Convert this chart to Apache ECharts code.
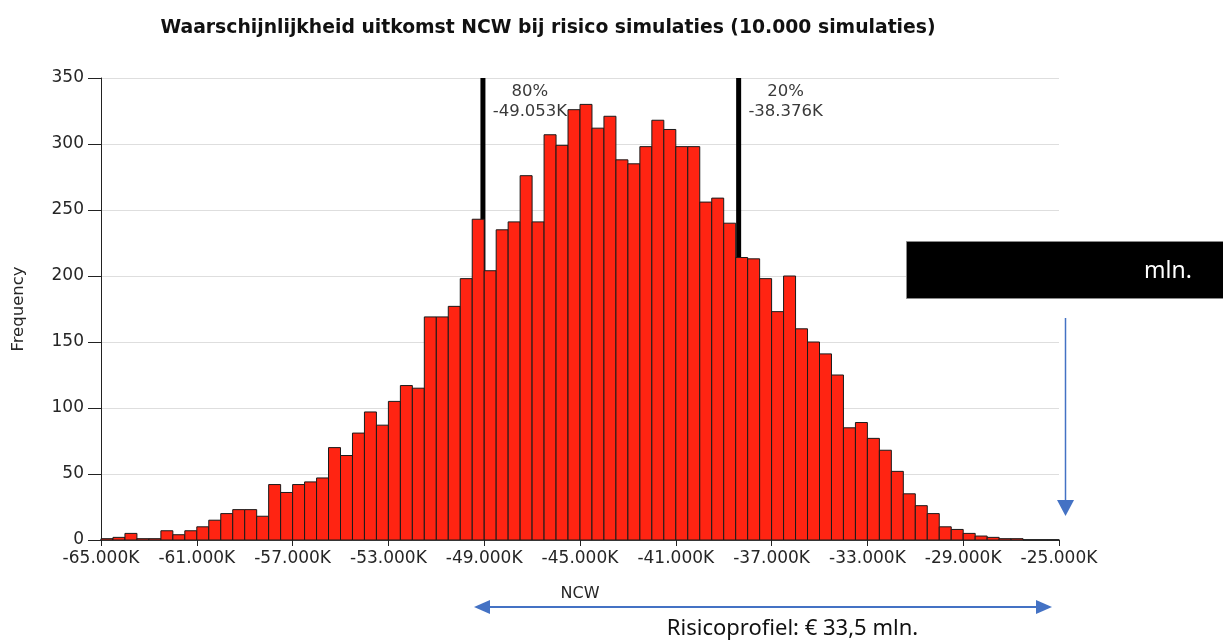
<!DOCTYPE html>
<html>
<head>
<meta charset="utf-8">
<script src="https://cdn.jsdelivr.net/npm/echarts@6/dist/echarts.min.js"></script>
<style>
html,body{margin:0;padding:0;background:#fff;}
#chart{width:1223px;height:641px;}
</style>
</head>
<body>
<div id="chart"></div>
<script>
// ---- data ----
const titleText = 'Waarschijnlijkheid uitkomst NCW bij risico simulaties (10.000 simulaties)';
const xAxisName = 'NCW';
const yAxisName = 'Frequency';
const binStart = -65000;   // lower edge of first bin (K)
const binWidth = 500;      // bin width (K)
// counts per bin (80 bins from -65.000K to -25.000K)
const frequencies = [
  1, 2, 5, 1, 1, 7, 4, 7, 10, 15,
  20, 23, 23, 18, 42, 36, 42, 44, 47, 70,
  64, 81, 97, 87, 105, 117, 115, 169, 169, 177,
  198, 243, 204, 235, 241, 276, 241, 307, 299, 326,
  330, 312, 321, 288, 285, 298, 318, 311, 298, 298,
  256, 259, 240, 214, 213, 198, 173, 200, 160, 150,
  141, 125, 85, 89, 77, 68, 52, 35, 26, 20,
  10, 8, 5, 3, 2, 1, 1, 0, 0, 0
];
const percentileValues = [-49053, -38376];
const percentileLabels = ['80%', '20%'];
const xMin = -65000, xMax = -25000, xInterval = 4000;
const yMin = 0, yMax = 350, yInterval = 50;
const noteBoxText = 'mln.';
const noteText = 'Risicoprofiel: \u20AC 33,5 mln.';

// ---- helpers ----
function fmtK(v) {
  const s = v < 0 ? '-' : '';
  return s + String(Math.abs(Math.round(v))).replace(/\B(?=(\d{3})+(?!\d))/g, '.') + 'K';
}
const histData = frequencies.map((f, i) => [binStart + i * binWidth, binStart + (i + 1) * binWidth, f]);
const pctData = percentileValues.map((v, i) => [v, percentileLabels[i]]);

const FONT = 'DejaVu Sans';
const TXT = '#262626';
const BLUE = '#4472c4';

const chart = echarts.init(document.getElementById('chart'), null, {renderer: 'canvas'});
chart.setOption({
  animation: false,
  backgroundColor: '#ffffff',
  title: {
    text: titleText,
    left: 543, top: 14, textAlign: 'center',
    textStyle: {fontFamily: FONT, fontSize: 18.8, fontWeight: 'bold', color: '#111'}
  },
  grid: {left: 101, right: 164, top: 78, bottom: 101, containLabel: false},
  xAxis: {
    type: 'value', min: xMin, max: xMax, interval: xInterval,
    name: xAxisName, nameLocation: 'middle', nameGap: 46,
    nameTextStyle: {fontFamily: FONT, fontSize: 16, color: TXT},
    axisLine: {show: true, onZero: false, lineStyle: {color: '#222', width: 1.5}},
    axisTick: {show: true, length: 6, lineStyle: {color: '#222'}},
    axisLabel: {fontFamily: FONT, fontSize: 17, color: TXT, margin: 10, formatter: fmtK,
      showMinLabel: true, showMaxLabel: true},
    splitLine: {show: false}
  },
  yAxis: {
    type: 'value', min: yMin, max: yMax, interval: yInterval,
    name: yAxisName, nameLocation: 'middle', nameGap: 74, nameRotate: 90,
    nameTextStyle: {fontFamily: FONT, fontSize: 16.5, color: TXT},
    axisLine: {show: true, lineStyle: {color: '#222', width: 1}},
    axisTick: {show: true, length: 13, lineStyle: {color: '#222'}},
    axisLabel: {fontFamily: FONT, fontSize: 17, color: TXT, margin: 17},
    splitLine: {show: true, lineStyle: {color: '#dedede', width: 1}}
  },
  series: [
    {
      type: 'custom', name: 'percentile lines', z: 1,
      data: pctData,
      encode: {x: 0},
      renderItem: function (params, api) {
        const v = api.value(0);
        const p0 = api.coord([v, yMin]);
        const p1 = api.coord([v, yMax]);
        return {type: 'line', shape: {x1: p0[0], y1: p0[1], x2: p1[0], y2: p1[1]},
          style: {stroke: '#000', lineWidth: 5}};
      }
    },
    {
      type: 'custom', name: 'NCW', z: 2,
      data: histData,
      encode: {x: [0, 1], y: 2},
      renderItem: function (params, api) {
        const p0 = api.coord([api.value(0), api.value(2)]);
        const p1 = api.coord([api.value(1), 0]);
        return {type: 'rect',
          shape: {x: p0[0], y: p0[1], width: p1[0] - p0[0], height: p1[1] - p0[1]},
          style: {fill: '#ff2412', stroke: '#1a1a1a', lineWidth: 1}};
      }
    },
    {
      type: 'custom', name: 'percentile labels', z: 3,
      data: pctData,
      encode: {x: 0},
      renderItem: function (params, api) {
        const v = api.value(0);
        const lbl = pctData[params.dataIndex][1];
        const p = api.coord([v, yMax]);
        return {type: 'text', x: p[0] + 47, y: p[1] + 4,
          style: {text: lbl + '\n' + fmtK(v), align: 'center', verticalAlign: 'top',
            fontFamily: FONT, fontSize: 16.5, lineHeight: 20, fill: '#3a3a3a'}};
      }
    }
  ],
  graphic: [
    {type: 'rect', z: 100, shape: {x: 906.5, y: 241.5, width: 330, height: 57},
      style: {fill: '#000', stroke: '#8a8a8a', lineWidth: 1}},
    {type: 'text', z: 101, x: 1168, y: 271,
      style: {text: noteBoxText, fill: '#fff', fontFamily: 'Noto Sans', fontSize: 23,
        align: 'center', verticalAlign: 'middle'}},
    {type: 'line', z: 100, shape: {x1: 1065.5, y1: 318, x2: 1065.5, y2: 502},
      style: {stroke: BLUE, lineWidth: 1.5}},
    {type: 'polygon', z: 100, shape: {points: [[1057, 500], [1074, 500], [1065.5, 516]]},
      style: {fill: BLUE}},
    {type: 'line', z: 100, shape: {x1: 488, y1: 607, x2: 1038, y2: 607},
      style: {stroke: BLUE, lineWidth: 2}},
    {type: 'polygon', z: 100, shape: {points: [[474, 607], [490, 600], [490, 614]]},
      style: {fill: BLUE}},
    {type: 'polygon', z: 100, shape: {points: [[1052, 607], [1036, 600], [1036, 614]]},
      style: {fill: BLUE}},
    {type: 'text', z: 101, x: 792.5, y: 629,
      style: {text: noteText, fill: '#111', fontFamily: 'Noto Sans', fontSize: 22,
        align: 'center', verticalAlign: 'middle'}}
  ]
});
</script>
</body>
</html>
